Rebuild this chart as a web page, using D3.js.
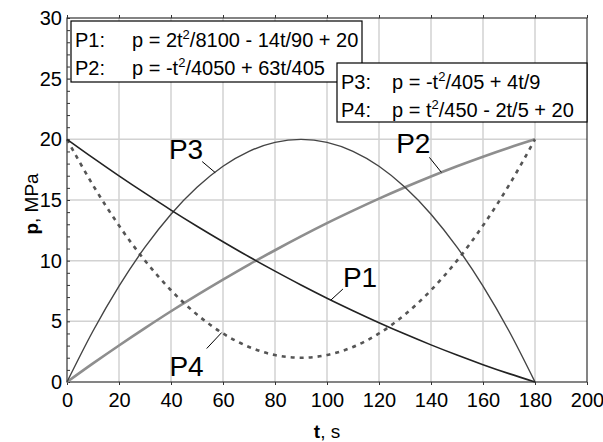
<!DOCTYPE html>
<html>
<head>
<meta charset="utf-8">
<script src="https://cdn.jsdelivr.net/npm/d3@7"></script>
<style>
  body { margin: 0; background: #fff; }
  text { font-family: Arial, 'Liberation Sans', sans-serif; }
</style>
</head>
<body>
<svg></svg>
<script>
// time points, s
const times = [0, 10, 20, 30, 40, 50, 60, 70, 80, 90, 100, 110, 120, 130, 140, 150, 160, 170, 180]
// pressure, MPa
const p1 = [20, 18.47, 16.99, 15.56, 14.17, 12.84, 11.56, 10.32, 9.14, 8, 6.91, 5.88, 4.89, 3.95, 3.06, 2.22, 1.43, 0.69, 0]
const p2 = [0, 1.53, 3.01, 4.44, 5.83, 7.16, 8.44, 9.68, 10.86, 12, 13.09, 14.12, 15.11, 16.05, 16.94, 17.78, 18.57, 19.31, 20]
const p3 = [0, 4.2, 7.9, 11.11, 13.83, 16.05, 17.78, 19.01, 19.75, 20, 19.75, 19.01, 17.78, 16.05, 13.83, 11.11, 7.9, 4.2, 0]
const p4 = [20, 16.22, 12.89, 10, 7.56, 5.56, 4, 2.89, 2.22, 2, 2.22, 2.89, 4, 5.56, 7.56, 10, 12.89, 16.22, 20]

const xTicks = [0, 20, 40, 60, 80, 100, 120, 140, 160, 180, 200]
const yTicks = [0, 5, 10, 15, 20, 25, 30]

const width = 603
const height = 442
const margin = { top: 18, right: 16, bottom: 60, left: 67 }

const x = d3.scaleLinear()
  .domain([0, 200])
  .range([margin.left, width - margin.right])

const y = d3.scaleLinear()
  .domain([0, 30])
  .range([height - margin.bottom, margin.top])

const svg = d3.select('svg')
  .attr('width', width)
  .attr('height', height)

// grid
svg.append('g')
  .attr('stroke', '#d2d2d2')
  .attr('stroke-width', 1.5)
  .call(g => g.selectAll('.v')
    .data(xTicks.slice(1, -1))
    .enter().append('line')
    .attr('x1', d => x(d)).attr('x2', d => x(d))
    .attr('y1', y(0)).attr('y2', y(30)))
  .call(g => g.selectAll('.h')
    .data(yTicks.slice(1, -1))
    .enter().append('line')
    .attr('y1', d => y(d)).attr('y2', d => y(d))
    .attr('x1', x(0)).attr('x2', x(200)))

// x axis
svg.append('g')
  .attr('transform', `translate(0,${y(0)})`)
  .call(d3.axisBottom(x).tickValues(xTicks).tickSize(3).tickPadding(8))
  .call(g => g.select('.domain').remove())
  .call(g => g.selectAll('text').attr('font-size', 20).attr('fill', '#000').attr('font-family', null))
  .call(g => g.selectAll('line').attr('stroke', '#333'))

// small ticks on top edge
svg.append('g')
  .attr('transform', `translate(0,${y(30)})`)
  .call(d3.axisTop(x).tickValues(xTicks).tickSize(3).tickFormat(''))
  .call(g => g.select('.domain').remove())
  .call(g => g.selectAll('line').attr('stroke', '#333'))

// y axis
svg.append('g')
  .attr('transform', `translate(${x(0)},0)`)
  .call(d3.axisLeft(y).tickValues(yTicks).tickSize(0).tickPadding(5))
  .call(g => g.select('.domain').remove())
  .call(g => g.selectAll('text').attr('font-size', 20).attr('fill', '#000').attr('font-family', null))

// y minor ticks, pointing in
svg.append('g')
  .attr('transform', `translate(${x(0)},0)`)
  .call(d3.axisRight(y).ticks(30).tickSize(3).tickFormat(''))
  .call(g => g.select('.domain').remove())
  .call(g => g.selectAll('line').attr('stroke', '#333'))

// frame
svg.append('rect')
  .attr('x', x(0))
  .attr('y', y(30))
  .attr('width', x(200) - x(0))
  .attr('height', y(0) - y(30))
  .attr('fill', 'none')
  .attr('stroke', '#333')
  .attr('stroke-width', 1.2)

// axis titles
svg.append('text')
  .attr('x', (x(0) + x(200)) / 2)
  .attr('y', 438)
  .attr('text-anchor', 'middle')
  .attr('font-size', 19)
  .call(t => t.append('tspan').attr('font-weight', 'bold').text('t'))
  .call(t => t.append('tspan').text(', s'))

svg.append('text')
  .attr('transform', `translate(38,204) rotate(-90)`)
  .attr('text-anchor', 'middle')
  .attr('font-size', 19)
  .call(t => t.append('tspan').attr('font-weight', 'bold').text('p'))
  .call(t => t.append('tspan').text(', MPa'))

// curves
const series = [
  { name: 'P2', values: p2, color: '#8e8e8e', width: 2.6, dash: null },
  { name: 'P4', values: p4, color: '#555', width: 2.6, dash: '4,5' },
  { name: 'P3', values: p3, color: '#444', width: 1.4, dash: null },
  { name: 'P1', values: p1, color: '#222', width: 1.6, dash: null }
]

const line = d3.line()
  .x((d, i) => x(times[i]))
  .y(d => y(d))
  .curve(d3.curveMonotoneX)

svg.append('g')
  .attr('fill', 'none')
  .selectAll('path')
  .data(series)
  .enter().append('path')
  .attr('d', d => line(d.values))
  .attr('stroke', d => d.color)
  .attr('stroke-width', d => d.width)
  .attr('stroke-dasharray', d => d.dash)

// curve labels with leader lines
const labels = [
  { name: 'P3', values: p3, t: 57, dx: -13, dy: -11, anchor: 'end', tx: 1, ty: -3 },
  { name: 'P1', values: p1, t: 101.5, dx: 12, dy: -11, anchor: 'start', tx: 0, ty: -2 },
  { name: 'P2', values: p2, t: 144, dx: -12, dy: -15, anchor: 'end', tx: 1, ty: -4 },
  { name: 'P4', values: p4, t: 59.5, dx: -15, dy: 16, anchor: 'end', tx: -3, ty: 27 }
]

function valueAt (values, t) {
  return d3.scaleLinear().domain(times).range(values)(t)
}

labels.forEach(l => {
  const cx = x(l.t)
  const cy = y(valueAt(l.values, l.t))
  svg.append('line')
    .attr('x1', cx).attr('y1', cy)
    .attr('x2', cx + l.dx).attr('y2', cy + l.dy)
    .attr('stroke', '#000')
    .attr('stroke-width', 1)
  svg.append('text')
    .attr('x', cx + l.dx + l.tx)
    .attr('y', cy + l.dy + l.ty)
    .attr('text-anchor', l.anchor)
    .attr('font-size', 28)
    .text(l.name)
})

// legend boxes
function legendBox (bx, by, bw, bh, rows, formulaX) {
  const g = svg.append('g')
  g.append('rect')
    .attr('x', bx).attr('y', by)
    .attr('width', bw).attr('height', bh)
    .attr('fill', '#fff')
    .attr('stroke', '#000')
    .attr('stroke-width', 1.2)
  rows.forEach((r, i) => {
    const base = by + 26 + i * 28
    g.append('text')
      .attr('x', bx + 4).attr('y', base)
      .attr('font-size', 20)
      .text(r.name + ':')
    const t = g.append('text')
      .attr('x', bx + formulaX).attr('y', base)
      .attr('font-size', 20)
    t.append('tspan').text(r.pre)
    t.append('tspan').attr('dy', -8).attr('font-size', 13).text('2')
    t.append('tspan').attr('dy', 8).text(r.post)
  })
}

legendBox(71, 21, 291, 61, [
  { name: 'P1', pre: 'p = 2t', post: '/8100 - 14t/90 + 20' },
  { name: 'P2', pre: 'p = -t', post: '/4050 + 63t/405' }
], 61)

legendBox(337, 63, 250, 59, [
  { name: 'P3', pre: 'p = -t', post: '/405 + 4t/9' },
  { name: 'P4', pre: 'p = t', post: '/450 - 2t/5 + 20' }
], 55)
</script>
</body>
</html>
